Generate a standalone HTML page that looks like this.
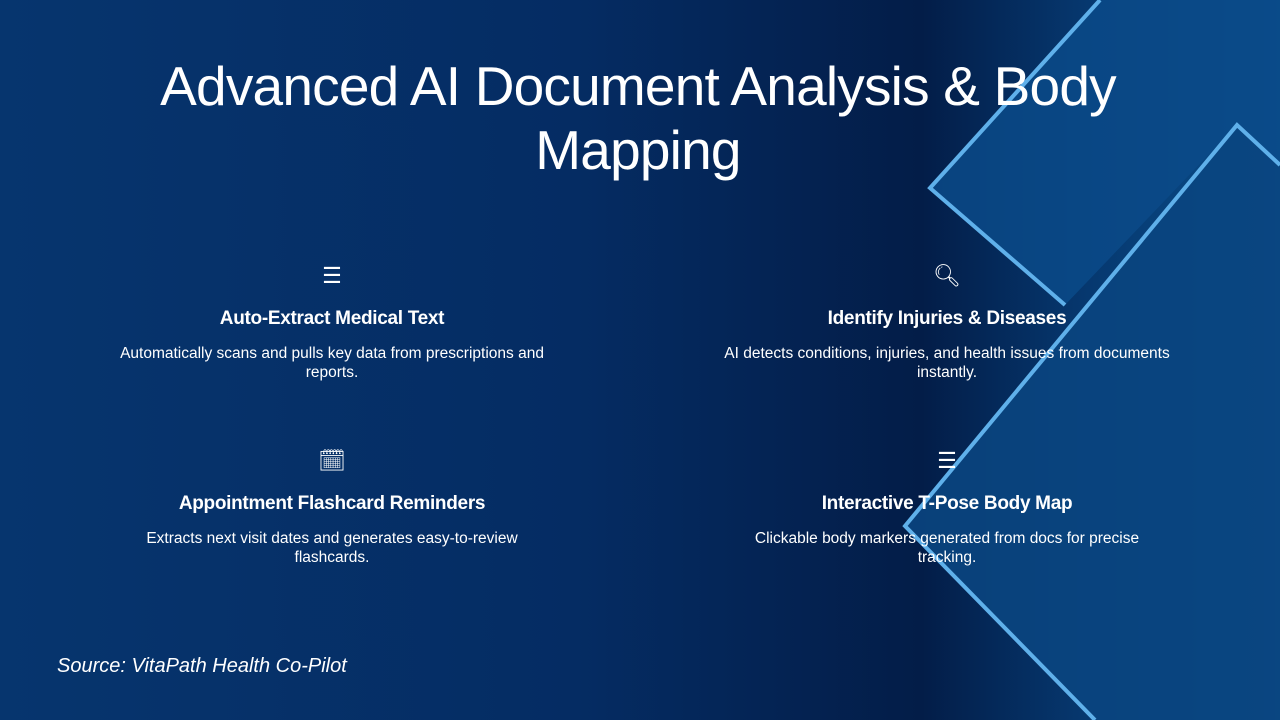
<!DOCTYPE html>
<html><head><style>
body{margin:0;width:1280px;height:720px;overflow:hidden;font-family:"Liberation Sans",sans-serif;color:#fff;position:relative;background:#052a5c}
.bg{position:absolute;left:0;top:0}
h1{position:absolute;left:0;width:1276px;top:54px;margin:0;text-align:center;font-weight:400;font-size:55px;line-height:64px;letter-spacing:-0.8px}
.item{position:absolute;width:520px;text-align:center}
.item .ic{font-size:22px;height:30px;line-height:30px}
.item h3{margin:17px 0 0;font-size:19px;font-weight:700;letter-spacing:-0.3px}
.item p{margin:14px auto 0;font-size:15.5px;line-height:19px;width:475px}
.item p.n{width:430px}
.src{position:absolute;left:57px;top:655px;font-size:20px;font-style:italic}
</style></head><body>
<svg class="bg" width="1280" height="720">
<defs>
<linearGradient id="g" x1="0" x2="1" y1="0" y2="0">
<stop offset="0" stop-color="#06356e"/><stop offset="0.45" stop-color="#052c63"/><stop offset="0.72" stop-color="#031d48"/><stop offset="0.85" stop-color="#06386f"/><stop offset="1" stop-color="#0a4f8c"/>
</linearGradient>
</defs>
<rect width="1280" height="720" fill="url(#g)"/>
<polygon points="1280,165 1237,125 905,526 1095,720 1280,720" fill="#0a4580" opacity="0.9"/>
<polygon points="1100,0 930,188 1065,305 1237,125 1280,165 1280,0" fill="#0a4a88" opacity="0.85"/>
<polyline points="1100,0 930,188 1065,305" fill="none" stroke="#5fb0ea" stroke-width="4"/>
<polyline points="1280,165 1237,125 905,526 1095,720" fill="none" stroke="#5fb0ea" stroke-width="4"/>
</svg>
<h1>Advanced AI Document Analysis &amp; Body<br>Mapping</h1>
<div class="item" style="left:72px;top:261px"><div class="ic">☰</div><h3>Auto-Extract Medical Text</h3><p>Automatically scans and pulls key data from prescriptions and reports.</p></div>
<div class="item" style="left:687px;top:261px"><div class="ic">🔍︎</div><h3>Identify Injuries &amp; Diseases</h3><p>AI detects conditions, injuries, and health issues from documents instantly.</p></div>
<div class="item" style="left:72px;top:446px"><div class="ic">🗓︎</div><h3>Appointment Flashcard Reminders</h3><p class="n">Extracts next visit dates and generates easy-to-review flashcards.</p></div>
<div class="item" style="left:687px;top:446px"><div class="ic">☰</div><h3>Interactive T-Pose Body Map</h3><p class="n">Clickable body markers generated from docs for precise tracking.</p></div>
<div class="src">Source: VitaPath Health Co-Pilot</div>
</body></html>
